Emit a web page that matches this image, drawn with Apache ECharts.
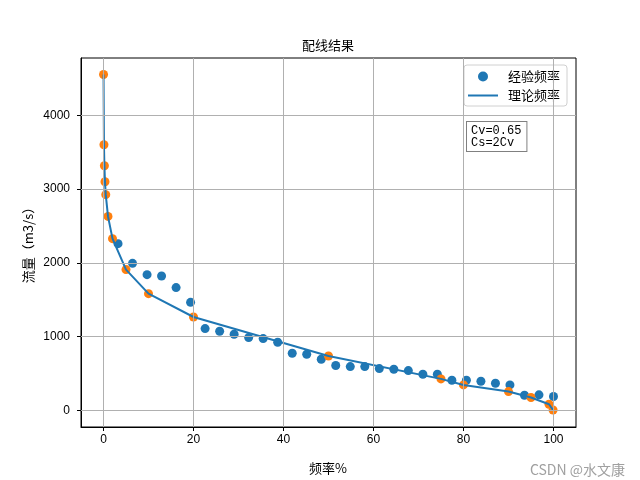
<!DOCTYPE html>
<html><head><meta charset="utf-8">
<script src="https://cdn.jsdelivr.net/npm/echarts@6/dist/echarts.min.js"></script>
<style>html,body{margin:0;padding:0;background:#fff}#c{width:640px;height:480px}</style>
</head><body><div id="c"></div>
<script>
// Theoretical frequency curve (P%, Q)
const theoP = [0.01, 0.1, 0.2, 0.33, 0.5, 1, 2, 5, 10, 20, 50, 75, 80, 90, 95, 99, 99.9];
const theoQ = [4556, 3603, 3318, 3101, 2925, 2630, 2328, 1908, 1582, 1265, 735, 425, 343, 253, 172, 81, 3];
// Empirical frequency points (P%, Q)
const empP = [3.23, 6.45, 9.68, 12.9, 16.13, 19.35, 22.58, 25.81, 29.03, 32.26, 35.48, 38.71, 41.94, 45.16, 48.39, 51.61, 54.84, 58.06, 61.29, 64.52, 67.74, 70.97, 74.19, 77.42, 80.65, 83.87, 87.1, 90.32, 93.55, 96.77, 100];
const empQ = [2260, 1993, 1840, 1821, 1664, 1464, 1108, 1071, 1031, 985, 972, 922, 773, 759, 691, 606, 592, 592, 565, 556, 538, 488, 488, 407, 407, 393, 366, 343, 203, 208, 186];
// Tick values
const xTicks = [0, 20, 40, 60, 80, 100];
const yTicks = [0, 1000, 2000, 3000, 4000];

const CJK = '"Noto Sans CJK SC", sans-serif';
const NUM = '"Liberation Sans", sans-serif';

const chart = echarts.init(document.getElementById('c'), null, {renderer: 'canvas'});
const theoPts = theoP.map((p, i) => [p, theoQ[i]]);
const empPts = empP.map((p, i) => [p, empQ[i]]);

chart.setOption({
  animation: false,
  backgroundColor: '#fff',
  grid: {left: 81, right: 64, top: 58, bottom: 53, show: true, borderColor: '#000', borderWidth: 1, backgroundColor: 'transparent'},
  xAxis: {
    type: 'value', min: -5, max: 105,
    axisLine: {show: true, onZero: false, lineStyle: {color: '#000', width: 1}},
    axisTick: {show: true, inside: false, length: 4, customValues: xTicks, lineStyle: {color: '#000'}},
    axisLabel: {customValues: xTicks, color: '#000', fontSize: 12, fontFamily: NUM, margin: 7, formatter: v => String(v)},
    splitLine: {show: false}
  },
  yAxis: {
    type: 'value', min: -228, max: 4780,
    axisLine: {show: true, onZero: false, lineStyle: {color: '#000', width: 1}},
    axisTick: {show: true, inside: false, length: 4, customValues: yTicks, lineStyle: {color: '#000'}},
    axisLabel: {customValues: yTicks, color: '#000', fontSize: 12, fontFamily: NUM, margin: 11, formatter: v => String(v)},
    splitLine: {show: false}
  },
  legend: {
    orient: 'vertical', left: 464, top: 65,
    data: [{name: '经验频率', icon: 'circle'}, {name: '理论频率', icon: 'path://M0 0 H30 V2 H0 Z'}],
    itemWidth: 30, itemHeight: 10, itemGap: 6, symbolKeepAspect: true,
    padding: [5, 7, 4, 4],
    borderColor: '#d0d0d0', borderWidth: 1, borderRadius: 3, backgroundColor: '#fff',
    textStyle: {fontSize: 13, fontFamily: CJK, color: '#000', padding: [0, 0, 0, 5]}
  },
  series: [
    {
      name: 'grid', type: 'line', data: [], z: 0, silent: true,
      markLine: {
        silent: true, symbol: ['none', 'none'], label: {show: false},
        lineStyle: {color: '#b0b0b0', type: 'solid', width: 1},
        emphasis: {disabled: true},
        data: xTicks.map(v => ({xAxis: v})).concat(yTicks.map(v => ({yAxis: v})))
      }
    },
    {
      name: '经验频率', type: 'scatter', data: empPts, symbolSize: 9, z: 2,
      itemStyle: {color: '#1f77b4', opacity: 1}
    },
    {
      name: '理论点', type: 'scatter', data: theoPts, symbolSize: 9, z: 3,
      itemStyle: {color: '#ff7f0e', opacity: 1}
    },
    {
      name: '理论频率', type: 'line', data: theoPts, symbol: 'none', z: 4,
      lineStyle: {color: '#1f77b4', width: 2}, itemStyle: {color: '#1f77b4'}
    }
  ],
  graphic: [
    {type: 'text', x: 328, y: 45, style: {text: '配线结果', font: '13px ' + CJK, fill: '#000', align: 'center', verticalAlign: 'middle'}},
    {type: 'text', x: 328, y: 468, style: {text: '频率%', font: '13px ' + CJK, fill: '#000', align: 'center', verticalAlign: 'middle'}},
    {type: 'text', x: 28, y: 242, rotation: Math.PI / 2, style: {text: '流量（m3/s）', font: '13px ' + CJK, fill: '#000', align: 'center', verticalAlign: 'middle'}},
    {type: 'text', x: 625, y: 470, style: {text: 'CSDN @水文康', font: '14px ' + CJK, fill: '#a0a0a0', align: 'right', verticalAlign: 'middle'}},
    {type: 'text', x: 467, y: 122, z: 10, style: {text: 'Cv=0.65\nCs=2Cv', font: '12px "Liberation Mono", monospace', lineHeight: 12, fill: '#000', backgroundColor: '#fff', borderColor: '#808080', borderWidth: 1, padding: [3, 5, 2, 4]}}
  ]
});
</script></body></html>
